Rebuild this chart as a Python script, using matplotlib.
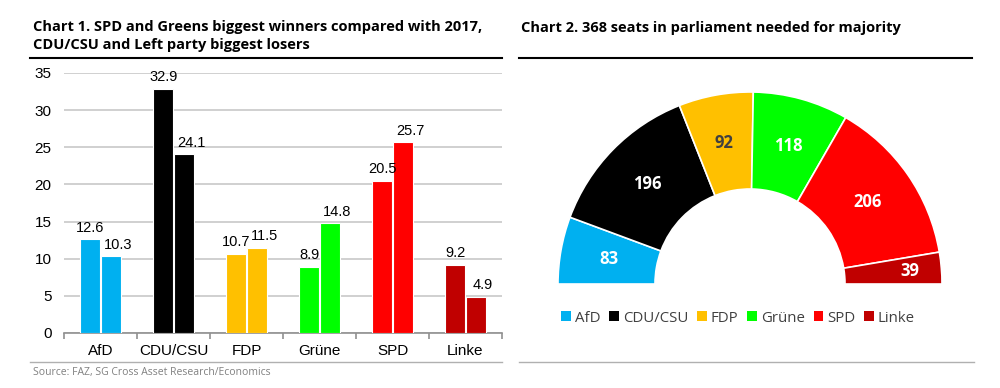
import numpy as np
import matplotlib.pyplot as plt
from matplotlib.patches import Wedge, Patch
from matplotlib.lines import Line2D

parties = ["AfD", "CDU/CSU", "FDP", "Grüne", "SPD", "Linke"]
colors = ["#00B0F0", "#000000", "#FFC000", "#00FF00", "#FF0000", "#C00000"]
vote_2017 = [12.6, 32.9, 10.7, 8.9, 20.5, 9.2]
vote_2021 = [10.3, 24.1, 11.5, 14.8, 25.7, 4.9]
seats = [83, 196, 92, 118, 206, 39]
seat_text = ["white", "white", "#404040", "white", "white", "white"]

W, H = 1000, 388
fig = plt.figure(figsize=(10, 3.88), dpi=100)

def fx(px):
    return px / W

def fy(py):
    return 1 - py / H

def hline(x0, x1, y, color, lw):
    fig.add_artist(Line2D([fx(x0), fx(x1)], [fy(y), fy(y)], color=color, lw=lw,
                          transform=fig.transFigure))

title_font = "Open Sans"

# ---------- Chart 1 ----------
fig.text(fx(33), fy(27), "Chart 1. SPD and Greens biggest winners compared with 2017,",
         fontsize=10.5, fontweight="bold", family=title_font, va="center")
fig.text(fx(33), fy(45), "CDU/CSU and Left party biggest losers",
         fontsize=10.5, fontweight="bold", family=title_font, va="center")
hline(30, 502, 58, "black", 1.5)
hline(30, 502, 362, "#b0b0b0", 1)
fig.text(fx(33), fy(372), "Source: FAZ, SG Cross Asset Research/Economics",
         fontsize=7.5, color="#808080", family=title_font, va="center")

ax = fig.add_axes([fx(64), fy(333), fx(502 - 64), (333 - 73) / H])
x = np.arange(len(parties))
bw = 0.28
for i in range(len(parties)):
    ax.bar(x[i] - bw / 2 - 0.005, vote_2017[i], bw, color=colors[i], edgecolor="white", lw=0.8, zorder=3)
    ax.bar(x[i] + bw / 2 + 0.005, vote_2021[i], bw, color=colors[i], edgecolor="white", lw=0.8, zorder=3)
    ax.text(x[i] - bw / 2, vote_2017[i] + 0.6, f"{vote_2017[i]:.1f}", ha="center", va="bottom",
            fontsize=10.5, family="Liberation Sans")
    ax.text(x[i] + bw / 2 + 0.1, vote_2021[i] + 0.6, f"{vote_2021[i]:.1f}", ha="center", va="bottom",
            fontsize=10.5, family="Liberation Sans")
ax.set_xlim(-0.5, len(parties) - 0.5)
ax.set_ylim(0, 35)
ax.set_yticks(range(0, 36, 5))
ax.yaxis.grid(True, color="#c8c8c8", lw=1.2, zorder=0)
ax.set_axisbelow(True)
for s in ["top", "right", "left"]:
    ax.spines[s].set_visible(False)
ax.spines["bottom"].set_color("#909090")
ax.spines["bottom"].set_linewidth(1.2)
ax.set_xticks(x)
ax.set_xticklabels(parties, fontsize=11, family="Liberation Sans")
ax.set_xticks(np.arange(-0.5, len(parties), 1), minor=True)
ax.tick_params(axis="x", which="major", length=0, pad=8)
ax.tick_params(axis="x", which="minor", length=4, color="#909090", width=1.2)
ax.tick_params(axis="y", length=0, labelsize=11, pad=9)
for lab in ax.get_yticklabels():
    lab.set_family("Liberation Sans")

# ---------- Chart 2 ----------
fig.text(fx(521), fy(28), "Chart 2. 368 seats in parliament needed for majority",
         fontsize=10.5, fontweight="bold", family=title_font, va="center")
hline(519, 972, 58, "black", 1.5)
hline(519, 974, 362, "#b0b0b0", 1)

ax2 = fig.add_axes([fx(540), fy(304), fx(420), 220 / H])
ax2.set_xlim(-210, 210)
ax2.set_ylim(-20, 200)
ax2.axis("off")
r_out, r_in = 192, 95
total = sum(seats)
start = 180.0
for i, s in enumerate(seats):
    span = 180.0 * s / total
    ax2.add_patch(Wedge((0, 0), r_out, start - span, start, width=r_out - r_in,
                        facecolor=colors[i], edgecolor="white", lw=1.2))
    mid = np.deg2rad(start - span / 2)
    rm = (r_out + r_in) / 2
    if i == len(seats) - 1:
        rm = 160
    ax2.text(rm * np.cos(mid), rm * np.sin(mid), str(s), ha="center", va="center",
             color=seat_text[i], fontsize=12, fontweight="bold", family=title_font)
    start -= span

handles = [Patch(facecolor=c, edgecolor="none") for c in colors]
fig.legend(handles, parties, loc="center", bbox_to_anchor=(fx(738), fy(318)), ncol=6,
           frameon=False, handlelength=0.65, handleheight=0.65, handletextpad=0.25,
           columnspacing=0.6, prop={"family": title_font, "size": 10.8}, labelcolor="#404040")

fig.savefig("out.png", dpi=100)
